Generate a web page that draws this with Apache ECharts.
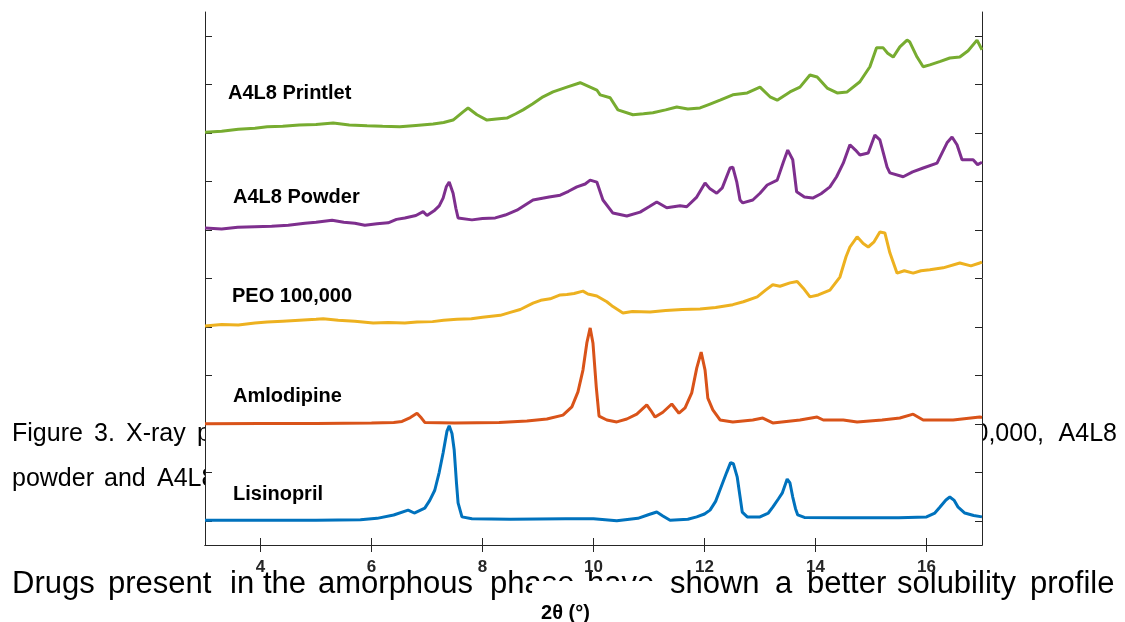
<!DOCTYPE html>
<html><head><meta charset="utf-8">
<script src="https://cdn.jsdelivr.net/npm/echarts@6/dist/echarts.min.js"></script>
<style>html,body{margin:0;padding:0;background:#fff}#c{width:1125px;height:622px}</style>
</head><body><div id="c"></div>
<script>
const xTickValues = [4, 6, 8, 10, 12, 14, 16];
const yTickValues = [0.5, 1.5, 2.5, 3.5, 4.5, 5.5, 6.5, 7.5, 8.5, 9.5, 10.5];
const seriesNames = ['Lisinopril', 'Amlodipine', 'PEO 100,000', 'A4L8 Powder', 'A4L8 Printlet'];

const lisinoprilX = [3.0,4.0,5.0,5.8,6.1,6.4,6.66,6.77,6.96,7.05,7.14,7.22,7.29,7.36,7.40,7.45,7.49,7.53,7.56,7.63,7.81,8.5,9.5,10.0,10.42,10.8,11.0,11.14,11.25,11.38,11.7,11.86,12.0,12.1,12.2,12.28,12.4,12.47,12.52,12.59,12.64,12.68,12.77,13.0,13.15,13.23,13.33,13.40,13.49,13.54,13.59,13.64,13.68,13.8,14.5,15.5,16.0,16.15,16.24,16.35,16.42,16.5,16.57,16.69,16.85,17.0];
const lisinoprilY = [0.51,0.51,0.51,0.52,0.55,0.62,0.72,0.66,0.76,0.92,1.13,1.5,1.9,2.35,2.46,2.3,1.96,1.3,0.87,0.58,0.54,0.53,0.54,0.54,0.50,0.55,0.63,0.68,0.6,0.51,0.53,0.58,0.64,0.72,0.9,1.14,1.5,1.7,1.68,1.40,1.0,0.68,0.58,0.58,0.66,0.78,0.95,1.07,1.36,1.28,0.99,0.75,0.62,0.57,0.56,0.56,0.58,0.66,0.78,0.93,0.99,0.92,0.78,0.66,0.61,0.58];

const amlodipineX = [3.0,4.0,5.0,6.0,6.4,6.55,6.7,6.82,6.9,6.96,7.5,8.3,8.8,9.16,9.45,9.61,9.72,9.81,9.88,9.94,9.99,10.05,10.10,10.24,10.42,10.6,10.78,10.96,11.03,11.11,11.25,11.41,11.54,11.65,11.77,11.86,11.94,12.01,12.06,12.15,12.28,12.51,12.87,13.05,13.23,13.72,14.03,14.14,14.5,14.75,15.2,15.52,15.76,15.94,16.48,16.96,17.0];
const amlodipineY = [2.50,2.51,2.51,2.52,2.53,2.55,2.63,2.72,2.62,2.53,2.52,2.53,2.56,2.60,2.68,2.85,3.16,3.61,4.17,4.48,4.17,3.26,2.66,2.58,2.54,2.60,2.70,2.89,2.78,2.64,2.74,2.91,2.72,2.83,3.14,3.65,3.98,3.61,3.03,2.79,2.58,2.54,2.58,2.62,2.52,2.58,2.64,2.58,2.58,2.54,2.58,2.62,2.70,2.58,2.58,2.64,2.63];

const peoX = [3.0,3.3,3.6,3.9,4.12,4.4,4.7,5.0,5.13,5.4,5.7,6.03,6.3,6.6,6.82,7.1,7.3,7.54,7.8,8.0,8.32,8.5,8.68,8.91,9.05,9.22,9.4,9.52,9.65,9.81,9.9,10.06,10.24,10.35,10.53,10.7,11.02,11.3,11.6,11.92,12.2,12.51,12.7,12.95,13.1,13.23,13.36,13.54,13.67,13.78,13.9,14.05,14.26,14.44,14.55,14.62,14.75,14.78,14.86,14.95,15.05,15.16,15.25,15.34,15.47,15.6,15.76,15.9,16.06,16.3,16.6,16.8,16.96,17.0];
const peoY = [4.52,4.55,4.54,4.58,4.60,4.62,4.64,4.66,4.67,4.64,4.62,4.58,4.59,4.58,4.60,4.61,4.64,4.66,4.67,4.70,4.74,4.80,4.86,4.99,5.05,5.08,5.16,5.17,5.19,5.24,5.18,5.14,5.02,4.92,4.79,4.82,4.81,4.84,4.86,4.87,4.90,4.96,5.02,5.12,5.26,5.37,5.34,5.41,5.44,5.30,5.12,5.16,5.26,5.53,5.95,6.15,6.36,6.40,6.22,6.15,6.25,6.46,6.44,6.03,5.61,5.66,5.61,5.66,5.68,5.72,5.82,5.76,5.82,5.84];

const powderX = [3.0,3.3,3.59,3.9,4.2,4.5,4.8,5.0,5.29,5.5,5.7,5.88,6.1,6.3,6.45,6.6,6.8,6.93,7.0,7.14,7.22,7.29,7.35,7.40,7.47,7.52,7.56,7.81,8.0,8.23,8.41,8.62,8.91,9.2,9.4,9.55,9.7,9.85,9.94,10.06,10.17,10.35,10.6,10.84,11.0,11.14,11.32,11.56,11.68,11.86,12.01,12.1,12.22,12.32,12.46,12.51,12.58,12.64,12.69,12.87,13.0,13.13,13.31,13.42,13.5,13.59,13.66,13.8,13.95,14.1,14.26,14.38,14.5,14.62,14.72,14.8,14.95,15.07,15.16,15.29,15.34,15.58,15.75,15.94,16.19,16.37,16.46,16.55,16.64,16.84,16.92,17.0];
const powderY = [6.54,6.52,6.56,6.57,6.58,6.60,6.64,6.66,6.70,6.66,6.64,6.60,6.63,6.65,6.72,6.75,6.80,6.88,6.80,6.91,7.00,7.16,7.40,7.49,7.26,6.95,6.75,6.71,6.74,6.75,6.81,6.91,7.12,7.18,7.22,7.30,7.39,7.45,7.53,7.49,7.12,6.85,6.79,6.87,6.98,7.08,6.96,7.00,6.98,7.18,7.47,7.35,7.26,7.37,7.78,7.80,7.50,7.12,7.06,7.12,7.26,7.43,7.53,7.90,8.15,7.95,7.29,7.18,7.16,7.25,7.39,7.60,7.88,8.26,8.15,8.05,8.09,8.46,8.36,7.80,7.68,7.60,7.70,7.78,7.88,8.30,8.42,8.26,7.95,7.95,7.85,7.90];

const printletX = [3.0,3.3,3.6,3.9,4.12,4.4,4.7,5.0,5.31,5.6,5.92,6.2,6.51,6.8,7.11,7.3,7.47,7.65,7.74,7.9,8.08,8.25,8.44,8.6,8.73,8.9,9.09,9.27,9.52,9.76,9.94,10.06,10.12,10.3,10.44,10.71,10.9,11.07,11.3,11.5,11.7,11.92,12.1,12.28,12.51,12.77,13.0,13.18,13.31,13.54,13.72,13.9,14.03,14.21,14.39,14.57,14.8,14.98,15.1,15.22,15.3,15.4,15.52,15.65,15.7,15.83,15.94,16.06,16.25,16.42,16.6,16.75,16.91,17.0];
const printletY = [8.52,8.54,8.58,8.60,8.63,8.64,8.67,8.68,8.71,8.67,8.65,8.64,8.63,8.66,8.69,8.72,8.77,8.94,9.02,8.88,8.77,8.79,8.81,8.90,8.98,9.10,9.25,9.35,9.45,9.54,9.45,9.39,9.29,9.23,8.98,8.88,8.90,8.92,8.98,9.04,9.00,9.02,9.10,9.18,9.29,9.33,9.45,9.25,9.18,9.35,9.45,9.70,9.66,9.43,9.33,9.35,9.56,9.87,10.26,10.26,10.15,10.07,10.28,10.42,10.38,10.07,9.87,9.91,9.98,10.05,10.07,10.20,10.42,10.22];

const seriesColors = ['#0072BD', '#D95319', '#EDB120', '#7E2F8E', '#77AC30'];
const xs = [lisinoprilX, amlodipineX, peoX, powderX, printletX];
const ys = [lisinoprilY, amlodipineY, peoY, powderY, printletY];

const FONT = '"Liberation Sans", Arial, Helvetica, sans-serif';
const AX = '#262626';

function docText(text, x, y, size, align) {
  return { type: 'text', x: x, y: y, z: -5, silent: true,
    style: { text: text, font: size + 'px ' + FONT, fill: '#000', align: align || 'left', verticalAlign: 'middle' } };
}
function seriesLabel(text, x, y) {
  return { type: 'text', x: x, y: y, z: 50, silent: true,
    style: { text: text, font: 'bold 20px ' + FONT, fill: '#000', align: 'left', verticalAlign: 'middle' } };
}

const bodyWords = [['Drugs',12],['present',108],['in',230],['the',263],['amorphous',318],['phase',490],['have',587],['shown',670],['a',775],['better',807],['solubility',897],['profile',1030]];

const graphics = [
  docText('Figure', 12, 434, 25), docText('3.', 94, 434, 25), docText('X-ray', 126, 434, 25),
  docText('powder diffraction patterns of lisinopril,', 197, 434, 25),
  docText('amlodipine, PEO 100,000,', 1044, 434, 25, 'right'),
  docText('A4L8', 1117, 434, 25, 'right'),
  docText('powder', 12, 479, 25), docText('and', 104, 479, 25), docText('A4L8 printlets.', 157, 479, 25)
];
bodyWords.forEach(w => graphics.push(docText(w[0], w[1], 584, 31)));
graphics.push(seriesLabel('A4L8 Printlet', 228, 93));
graphics.push(seriesLabel('A4L8 Powder', 233, 197));
graphics.push(seriesLabel('PEO 100,000', 232, 296));
graphics.push(seriesLabel('Amlodipine', 233, 396));
graphics.push(seriesLabel('Lisinopril', 233, 494));

const axisLineStyle = { lineStyle: { color: AX, width: 1 } };
const chart = echarts.init(document.getElementById('c'), null, { renderer: 'canvas' });
chart.setOption({
  animation: false,
  backgroundColor: '#fff',
  grid: { show: true, backgroundColor: '#fff', borderWidth: 0, left: 205, right: 143, top: 12, bottom: 77,
          outerBoundsMode: 'none', containLabel: false },
  xAxis: [
    { type: 'value', min: 3, max: 17, position: 'bottom',
      axisLine: axisLineStyle,
      axisTick: { inside: true, length: 7, lineStyle: { color: AX }, customValues: xTickValues },
      axisLabel: { customValues: xTickValues, color: AX, fontWeight: 'bold', fontSize: 17, fontFamily: FONT, margin: 14 },
      splitLine: { show: false },
      name: '2\u03b8 (\u00b0)', nameLocation: 'middle', nameGap: 32,
      nameTextStyle: { color: '#000', fontWeight: 'bold', fontSize: 20, fontFamily: FONT,
        backgroundColor: '#fff', padding: [23, 65, 12, 9] } },
    { type: 'value', min: 3, max: 17, position: 'top',
      axisLine: axisLineStyle,
      axisTick: { inside: true, length: 7, lineStyle: { color: AX }, customValues: xTickValues },
      axisLabel: { show: false }, splitLine: { show: false } }
  ],
  yAxis: [
    { type: 'value', min: 0, max: 11, position: 'left',
      axisLine: { show: true, lineStyle: { color: AX, width: 1 } },
      axisTick: { show: true, inside: true, length: 7, lineStyle: { color: AX }, customValues: yTickValues },
      axisLabel: { show: false }, splitLine: { show: false } },
    { type: 'value', min: 0, max: 11, position: 'right',
      axisLine: { show: true, lineStyle: { color: AX, width: 1 } },
      axisTick: { show: true, inside: true, length: 7, lineStyle: { color: AX }, customValues: yTickValues },
      axisLabel: { show: false }, splitLine: { show: false } }
  ],
  graphic: graphics,
  series: seriesNames.map((n, i) => ({
    name: n, type: 'line', xAxisIndex: 0, yAxisIndex: 0, showSymbol: false, symbol: 'none',
    lineStyle: { color: seriesColors[i], width: 3 }, itemStyle: { color: seriesColors[i] },
    data: xs[i].map((x, j) => [x, ys[i][j]]), z: 3
  }))
});
</script></body></html>
